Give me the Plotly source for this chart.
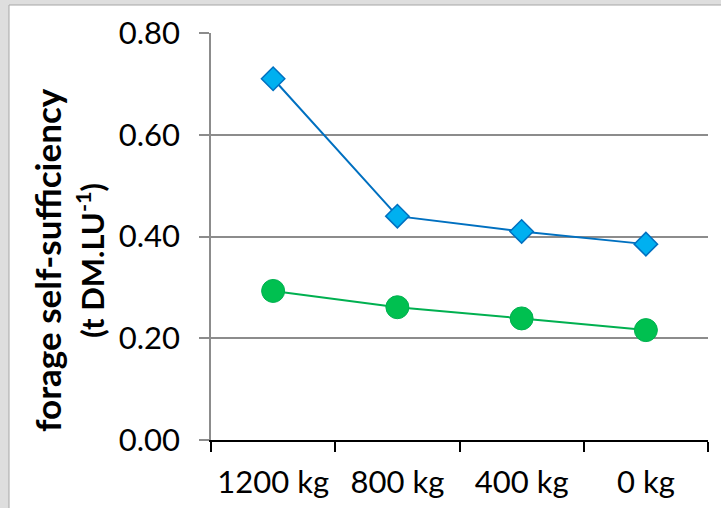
import plotly.graph_objects as go

# Concentrate level per livestock unit
categories = ["1200 kg", "800 kg", "400 kg", "0 kg"]
# Forage self-sufficiency (t DM per LU) for the two systems
series_blue = [0.71, 0.44, 0.41, 0.385]
series_green = [0.293, 0.261, 0.239, 0.216]
y_ticks = [0.0, 0.2, 0.4, 0.6, 0.8]
y_tick_labels = ["0.00", "0.20", "0.40", "0.60", "0.80"]

W, H = 721, 508
L, R, T, B = 211, 13, 33, 68
pw, ph = W - L - R, H - T - B


def px_x(p):
    return (p - L) / pw


def px_y(p):
    return (H - B - p) / ph


FONT = "Lato, Calibri, Carlito, sans-serif"

fig = go.Figure()
fig.add_trace(go.Scatter(
    x=categories, y=series_blue, mode="lines+markers",
    line=dict(color="#0070C0", width=2),
    marker=dict(symbol="diamond", size=18, color="#00B0F0",
                line=dict(color="#0070C0", width=1.5)),
    showlegend=False,
))
fig.add_trace(go.Scatter(
    x=categories, y=series_green, mode="lines+markers",
    line=dict(color="#00B050", width=2),
    marker=dict(symbol="circle", size=23, color="#00C050",
                line=dict(color="#00B050", width=1)),
    showlegend=False,
))

# window-style frame: grey band on top and left, white sheet behind the chart
fig.add_shape(type="rect", xref="paper", yref="paper", layer="below",
              x0=px_x(9), x1=px_x(740), y0=px_y(530), y1=px_y(5),
              fillcolor="white", line=dict(color="#a6a6a6", width=1))

fig.add_annotation(
    xref="paper", yref="paper", x=px_x(68), y=px_y(260),
    text=("<span style='font-size:35px'>forage self-sufficiency</span><br>"
          "<span style='font-size:31px'>(t DM.LU<sup>-1</sup>)</span>"),
    textangle=-90, showarrow=False, xanchor="center", yanchor="middle",
    font=dict(family=FONT, size=33, color="black", weight="bold"),
)

fig.update_layout(
    width=W, height=H,
    margin=dict(l=L, r=R, t=T, b=B, pad=0, autoexpand=False),
    paper_bgcolor="#dedede", plot_bgcolor="white",
    font=dict(family=FONT, color="black"),
    xaxis=dict(
        type="category", range=[-0.5, 3.5], tickson="boundaries",
        showgrid=False, showline=True, linecolor="black", linewidth=1.5,
        ticks="outside", ticklen=10, tickcolor="black", tickwidth=1.5,
        tickfont=dict(size=31, family=FONT), ticklabelstandoff=14,
        automargin=False,
    ),
    yaxis=dict(
        range=[0, 0.8], tickvals=y_ticks, ticktext=y_tick_labels,
        showgrid=True, gridcolor="#8c8c8c", gridwidth=1.5,
        showline=True, linecolor="#8c8c8c", linewidth=1.5,
        ticks="outside", ticklen=10, tickcolor="#8c8c8c", tickwidth=1.5,
        tickfont=dict(size=31, family=FONT), ticklabelstandoff=13,
        zeroline=False, automargin=False,
    ),
)

fig.write_html("out.html")
